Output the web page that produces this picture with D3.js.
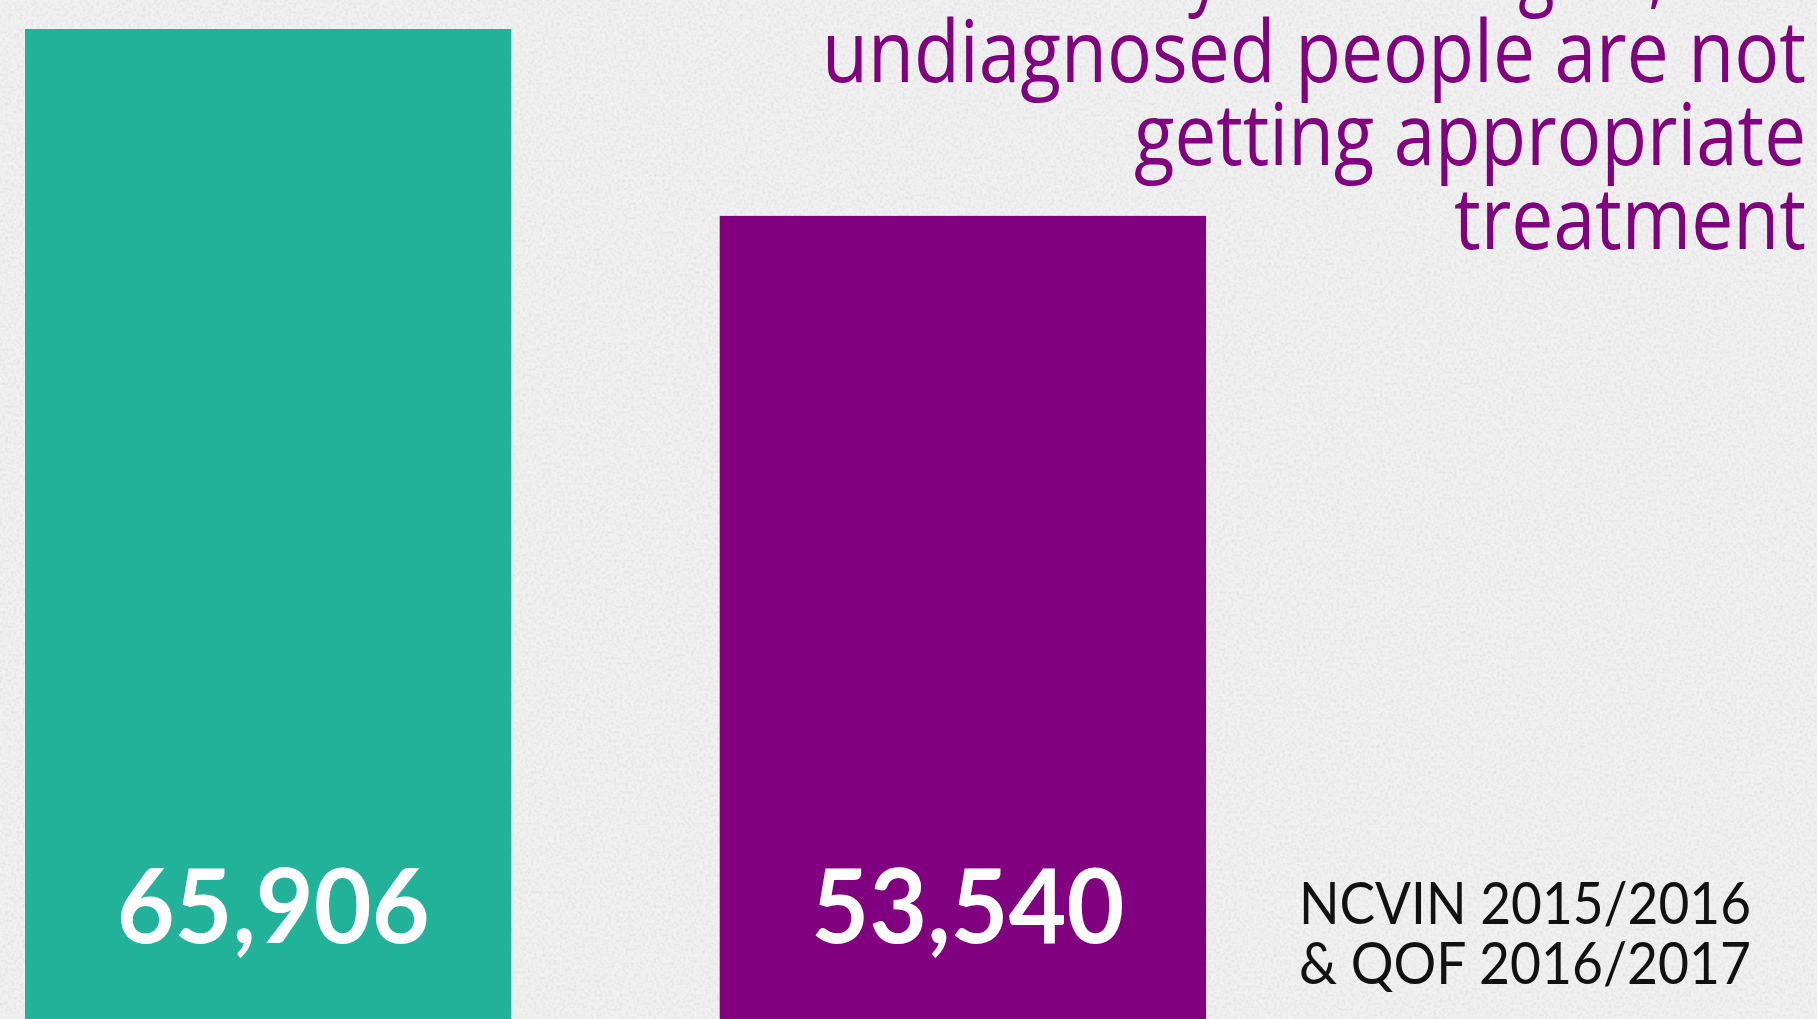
<!DOCTYPE html>
<html>
<head>
<meta charset="utf-8">
<script src="https://cdn.jsdelivr.net/npm/d3@7"></script>
<style>
  html, body { margin: 0; padding: 0; background: #f0f0f0; overflow: hidden; }
</style>
</head>
<body>
<script>
// data
const categories = ["Expected", "Diagnosed"];
const values = [65906, 53540];
const barColors = ["#22b199", "#800080"];
const titleLines = ["Potentially remaining 12,366", "undiagnosed people are not", "getting appropriate", "treatment"];
const sourceLines = ["NCVIN 2015/2016", "& QOF 2016/2017"];

const width = 1817;
const height = 1019;

const svg = d3.select("body").append("svg")
    .attr("width", width)
    .attr("height", height);

// paper texture for the background
const defs = svg.append("defs");
const paper = defs.append("filter").attr("id", "paper")
    .attr("x", 0).attr("y", 0).attr("width", "100%").attr("height", "100%");
paper.append("feTurbulence")
    .attr("type", "fractalNoise")
    .attr("baseFrequency", 0.35)
    .attr("numOctaves", 2)
    .attr("seed", 3)
    .attr("result", "noise");
paper.append("feColorMatrix")
    .attr("in", "noise")
    .attr("type", "matrix")
    .attr("values", "0 0 0 0 0  0 0 0 0 0  0 0 0 0 0  0 0 0 -0.9 0.55");

svg.append("rect")
    .attr("width", width).attr("height", height)
    .attr("fill", "#f1f1f1");
svg.append("rect")
    .attr("width", width).attr("height", height)
    .attr("filter", "url(#paper)")
    .attr("opacity", 0.12);

const x = d3.scaleBand()
    .domain(categories)
    .range([25, 1206])
    .paddingInner(0.3)
    .paddingOuter(0);

const y = d3.scaleLinear()
    .domain([0, d3.max(values)])
    .range([1025, 29]);

const data = categories.map((c, i) => ({ cat: c, value: values[i], color: barColors[i] }));

svg.selectAll(".bar")
    .data(data)
    .enter().append("rect")
    .attr("class", "bar")
    .attr("x", d => x(d.cat))
    .attr("y", d => y(d.value))
    .attr("width", x.bandwidth())
    .attr("height", d => y(0) - y(d.value))
    .attr("fill", d => d.color);

// value labels at bottom of each bar
svg.selectAll(".val")
    .data(data)
    .enter().append("text")
    .attr("class", "val")
    .attr("x", d => x(d.cat) + x.bandwidth() / 2 + 5)
    .attr("y", 943)
    .attr("text-anchor", "middle")
    .attr("font-family", "Lato, sans-serif")
    .attr("font-weight", 700)
    .attr("font-size", 103)
    .attr("fill", "#ffffff")
    .attr("textLength", 313)
    .attr("lengthAdjust", "spacingAndGlyphs")
    .text(d => d3.format(",")(d.value));

// title, right aligned; the top line is cut off by the top edge
const titleWidths = [null, 984, 672, 352];
const lineY = i => -2 + i * 83.5;

const title = svg.append("g").selectAll("text")
    .data(titleLines.slice(1))
    .enter().append("text")
    .attr("x", 1806)
    .attr("y", (d, i) => lineY(i + 1))
    .attr("text-anchor", "end")
    .attr("font-family", "'Open Sans', sans-serif")
    .attr("font-size", 86)
    .attr("fill", "#800080")
    .attr("textLength", (d, i) => titleWidths[i + 1])
    .attr("lengthAdjust", "spacingAndGlyphs")
    .text(d => d);

// first line: only its descenders show, so fit it so the "y" and the ","
// sit where they do in the picture
const first = svg.append("text")
    .attr("x", 0)
    .attr("y", 0)
    .attr("font-family", "'Open Sans', sans-serif")
    .attr("font-size", 86)
    .attr("fill", "#800080")
    .text(titleLines[0]);
const node = first.node();
const mid = i => { const b = node.getExtentOfChar(i); return b.x + b.width / 2; };
const iy = titleLines[0].indexOf("y");
const ic = titleLines[0].indexOf(",");
const cy = mid(iy) - 6;
const cc = mid(ic);
const s = (1657 - 1200) / (cc - cy);
first.attr("transform", `translate(${1200 - s * cy},${lineY(0)}) scale(${s},1)`);

// source note
svg.append("g").selectAll("text")
    .data(sourceLines)
    .enter().append("text")
    .attr("x", 1299)
    .attr("y", (d, i) => 924 + i * 59.5)
    .attr("font-family", "Lato, sans-serif")
    .attr("font-size", 58)
    .attr("fill", "#111111")
    .attr("textLength", 452)
    .attr("lengthAdjust", "spacingAndGlyphs")
    .text(d => d);
</script>
</body>
</html>
